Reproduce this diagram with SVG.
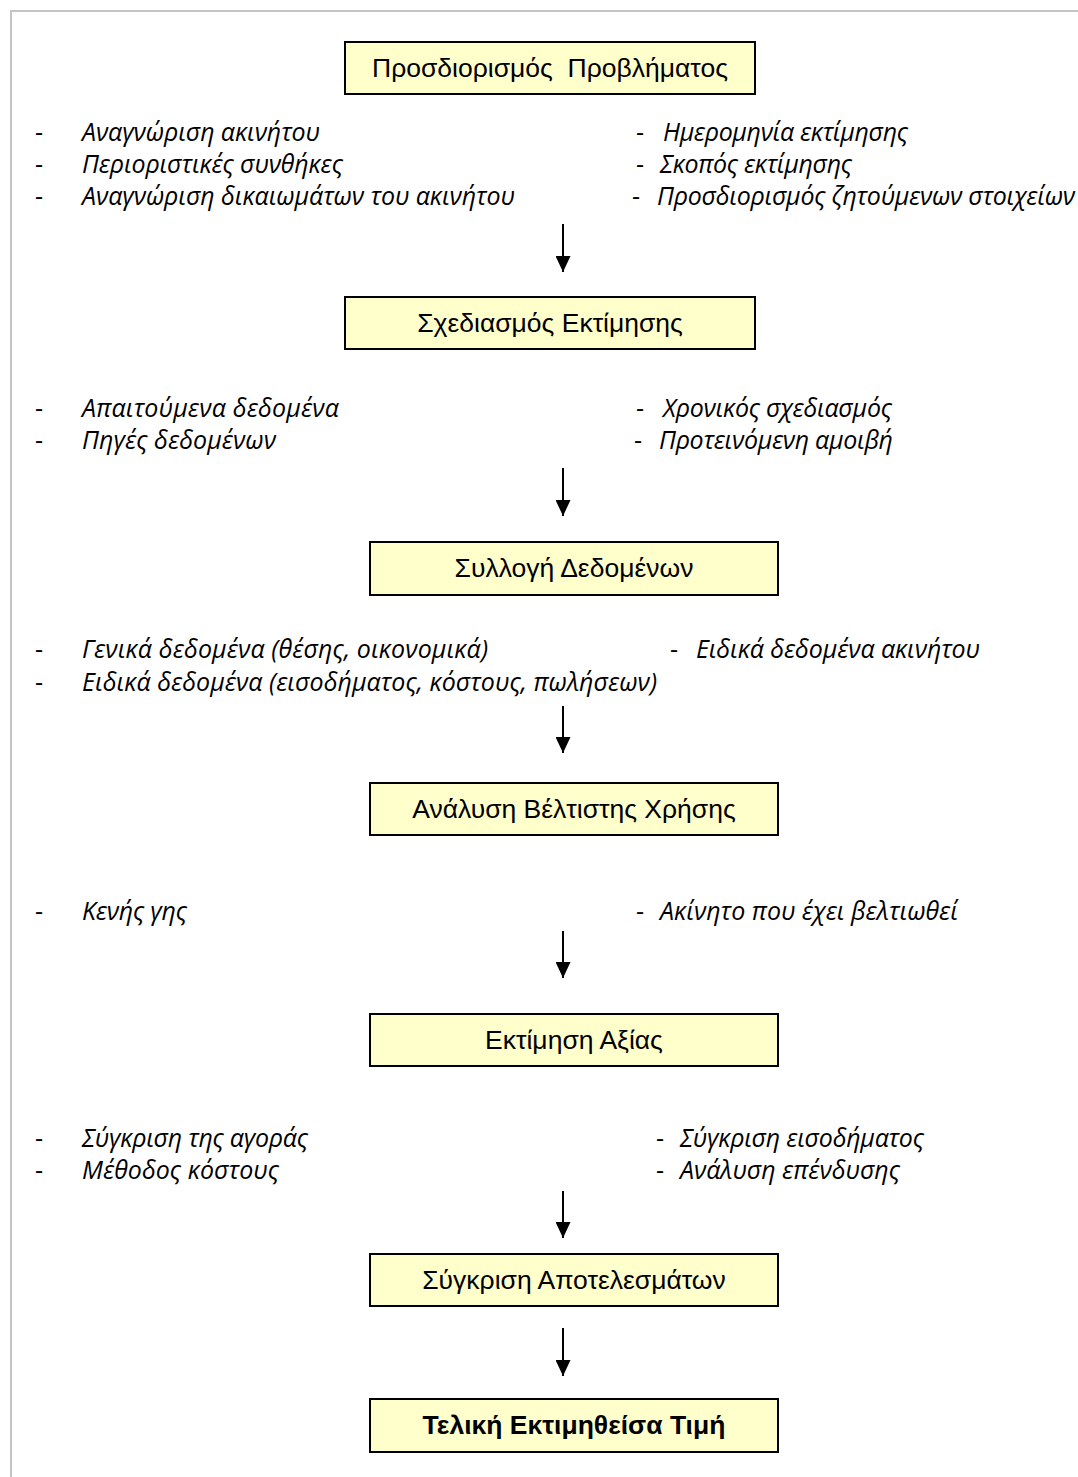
<svg xmlns="http://www.w3.org/2000/svg" width="1078" height="1477" viewBox="0 0 1078 1477">
  <style>
    .frame { stroke: #c4c4c4; stroke-width: 2; fill: none; }
    .box { fill: #ffffcc; stroke: #000; stroke-width: 2; }
    .title { font-family: "Liberation Sans", Arial, sans-serif; font-size: 26.5px; fill: #000; text-anchor: middle; white-space: pre; }
    .final { font-weight: bold; }
    .item { font-family: "Open Sans", "Noto Sans", sans-serif; font-style: italic; font-size: 25px; fill: #000; }
    .dash { font-family: "Open Sans", "Noto Sans", sans-serif; font-size: 25px; fill: #000; }
    .conn line { stroke: #000; stroke-width: 2; }
  </style>
  <defs>
    <marker id="head" viewBox="0 0 16 15" refX="16" refY="7.5" markerUnits="userSpaceOnUse" markerWidth="16" markerHeight="15" orient="auto">
      <path d="M0,0 L16,7.5 L0,15 Z" fill="#000"/>
    </marker>
  </defs>

  <rect width="1078" height="1477" fill="#fff"/>
  <!-- page frame (top and left edges) -->
  <path class="frame" d="M11,1477 V11 H1078"/>

  <!-- process steps -->
  <g id="step-problem">
    <rect class="box" x="345" y="42" width="410" height="52"/>
    <text class="title" x="550" y="77">Προσδιορισμός  Προβλήματος</text>
  </g>
  <g id="step-plan">
    <rect class="box" x="345" y="297" width="410" height="52"/>
    <text class="title" x="550" y="332">Σχεδιασμός Εκτίμησης</text>
  </g>
  <g id="step-data">
    <rect class="box" x="370" y="542" width="408" height="53"/>
    <text class="title" x="574" y="577">Συλλογή Δεδομένων</text>
  </g>
  <g id="step-bestuse">
    <rect class="box" x="370" y="783" width="408" height="52"/>
    <text class="title" x="574" y="818">Ανάλυση Βέλτιστης Χρήσης</text>
  </g>
  <g id="step-value">
    <rect class="box" x="370" y="1014" width="408" height="52"/>
    <text class="title" x="574" y="1049">Εκτίμηση Αξίας</text>
  </g>
  <g id="step-compare">
    <rect class="box" x="370" y="1254" width="408" height="52"/>
    <text class="title" x="574" y="1289">Σύγκριση Αποτελεσμάτων</text>
  </g>
  <g id="step-final">
    <rect class="box" x="370" y="1399" width="408" height="53"/>
    <text class="title final" x="574" y="1434">Τελική Εκτιμηθείσα Τιμή</text>
  </g>

  <!-- bullet notes -->
  <g id="notes-problem">
    <text class="dash" x="35" y="141">-</text>
    <text class="item" x="82" y="141" textLength="238">Αναγνώριση ακινήτου</text>
    <text class="dash" x="35" y="173">-</text>
    <text class="item" x="82" y="173" textLength="261">Περιοριστικές συνθήκες</text>
    <text class="dash" x="35" y="205">-</text>
    <text class="item" x="82" y="205" textLength="433">Αναγνώριση δικαιωμάτων του ακινήτου</text>
    <text class="dash" x="636" y="141">-</text>
    <text class="item" x="663" y="141" textLength="245">Ημερομηνία εκτίμησης</text>
    <text class="dash" x="636" y="173">-</text>
    <text class="item" x="660" y="173" textLength="192">Σκοπός εκτίμησης</text>
    <text class="dash" x="632" y="205">-</text>
    <text class="item" x="657" y="205" textLength="418">Προσδιορισμός ζητούμενων στοιχείων</text>
  </g>
  <g id="notes-plan">
    <text class="dash" x="35" y="417">-</text>
    <text class="item" x="82" y="417" textLength="257">Απαιτούμενα δεδομένα</text>
    <text class="dash" x="35" y="449">-</text>
    <text class="item" x="82" y="449" textLength="194">Πηγές δεδομένων</text>
    <text class="dash" x="636" y="417">-</text>
    <text class="item" x="663" y="417" textLength="229">Χρονικός σχεδιασμός</text>
    <text class="dash" x="634" y="449">-</text>
    <text class="item" x="659" y="449" textLength="234">Προτεινόμενη αμοιβή</text>
  </g>
  <g id="notes-data">
    <text class="dash" x="35" y="658">-</text>
    <text class="item" x="82" y="658" textLength="406">Γενικά δεδομένα (θέσης, οικονομικά)</text>
    <text class="dash" x="35" y="691">-</text>
    <text class="item" x="82" y="691" textLength="575">Ειδικά δεδομένα (εισοδήματος, κόστους, πωλήσεων)</text>
    <text class="dash" x="670" y="658">-</text>
    <text class="item" x="696" y="658" textLength="284">Ειδικά δεδομένα ακινήτου</text>
  </g>
  <g id="notes-bestuse">
    <text class="dash" x="35" y="920">-</text>
    <text class="item" x="82" y="920" textLength="105">Κενής γης</text>
    <text class="dash" x="636" y="920">-</text>
    <text class="item" x="660" y="920" textLength="298">Ακίνητο που έχει βελτιωθεί</text>
  </g>
  <g id="notes-value">
    <text class="dash" x="35" y="1147">-</text>
    <text class="item" x="82" y="1147" textLength="226">Σύγκριση της αγοράς</text>
    <text class="dash" x="35" y="1179">-</text>
    <text class="item" x="82" y="1179" textLength="197">Μέθοδος κόστους</text>
    <text class="dash" x="656" y="1147">-</text>
    <text class="item" x="680" y="1147" textLength="244">Σύγκριση εισοδήματος</text>
    <text class="dash" x="656" y="1179">-</text>
    <text class="item" x="680" y="1179" textLength="220">Ανάλυση επένδυσης</text>
  </g>

  <!-- connectors -->
  <g id="connectors" class="conn">
    <line x1="563" y1="224" x2="563" y2="272" marker-end="url(#head)"/>
    <line x1="563" y1="468" x2="563" y2="516" marker-end="url(#head)"/>
    <line x1="563" y1="706" x2="563" y2="753" marker-end="url(#head)"/>
    <line x1="563" y1="931" x2="563" y2="978" marker-end="url(#head)"/>
    <line x1="563" y1="1191" x2="563" y2="1238" marker-end="url(#head)"/>
    <line x1="563" y1="1328" x2="563" y2="1376" marker-end="url(#head)"/>
  </g>
</svg>
